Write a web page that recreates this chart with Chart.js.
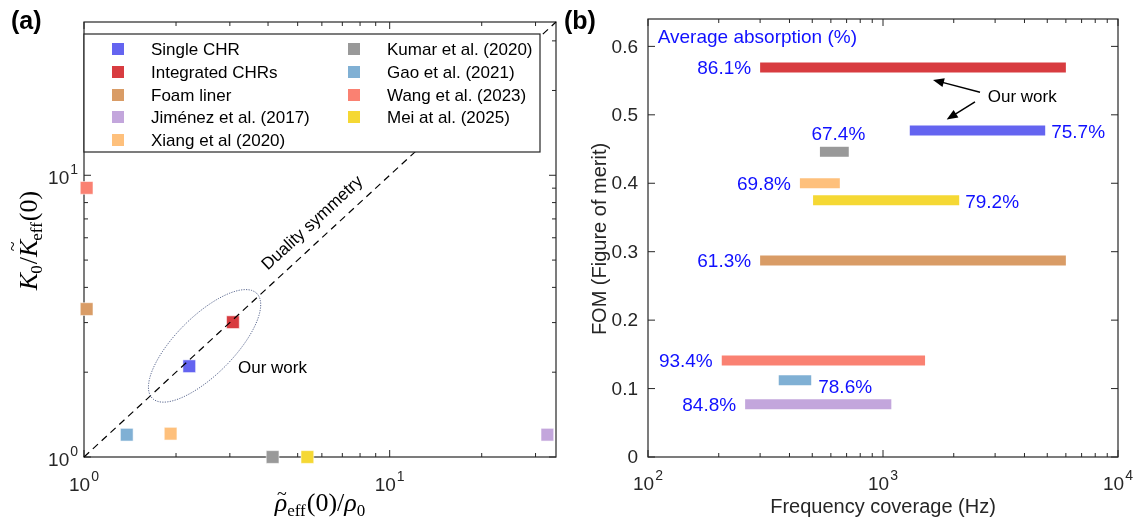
<!DOCTYPE html>
<html><head><meta charset="utf-8">
<script src="https://cdn.jsdelivr.net/npm/chart.js@4.4.1/dist/chart.umd.min.js"></script>
<style>
html,body{margin:0;padding:0;background:#fff;width:1137px;height:522px;overflow:hidden;}
#ca{position:absolute;left:0;top:0;}
#cb{position:absolute;left:560px;top:0;}
</style></head><body>
<canvas id="ca" width="568" height="522"></canvas>
<canvas id="cb" width="577" height="522"></canvas>
<script>
// ---------- shared series ----------
const seriesNames  = ['Single CHR','Integrated CHRs','Foam liner','Jiménez et al. (2017)','Xiang et al (2020)','Kumar et al. (2020)','Gao et al. (2021)','Wang et al. (2023)','Mei at al. (2025)'];
const seriesColors = ['#6464f0','#d83c40','#d99c66','#c3a6dc','#fec07c','#999999','#80b0d4','#fa8172','#f5d834'];

// ---------- panel (a) data ----------
const rhoRatio = [2.21, 3.07, 1.02, 32.8, 1.92, 4.14, 1.38, 1.02, 5.38];
const kRatio   = [2.10, 3.01, 3.35, 1.20, 1.21, 1.00, 1.20, 9.02, 1.00];
const aLimits = [1, 35];
const aMajorTicks = [1, 10];
const aMinorTicks = [2,3,4,5,6,7,8,9,20,30];
const aTickExp = ['0','1'];
const ellipseCenter = [2.48, 2.48];
const ellipseMajorDec = [0.171, 0.186];
const ellipseMinorDec = [0.067, -0.073];

// ---------- panel (b) data ----------
const fomValues = [0.477, 0.569, 0.287, 0.077, 0.400, 0.446, 0.112, 0.141, 0.375];
const freqLow   = [1300, 300, 300, 259, 443, 539, 360, 206, 504];
const freqHigh  = [4900, 6000, 6000, 1085, 655, 715, 495, 1510, 2110];
const absorption = ['75.7%','86.1%','61.3%','84.8%','69.8%','67.4%','78.6%','93.4%','79.2%'];
const absorptionSide = ['right','left','left','left','left','above','rightBelow','left','right'];
const bXLimits = [100, 10000];
const bYLimits = [0, 0.64];
const bXMajorTicks = [100, 1000, 10000];
const bXTickExp = ['2','3','4'];
const bXMinorTicks = [200,300,400,500,600,700,800,900,2000,3000,4000,5000,6000,7000,8000,9000];
const bYTicks = [0,0.1,0.2,0.3,0.4,0.5,0.6];
const bYTickLabels = ['0','0.1','0.2','0.3','0.4','0.5','0.6'];

const SANS = '"Liberation Sans", Arial, sans-serif';
const SERIF = '"Liberation Serif", "Times New Roman", serif';
const AXIS = '#262626';
const BLUE = '#1010ff';

function drawFrame(chart, xMajor, xMinor, yMajor, yMinor) {
  const ctx = chart.ctx, a = chart.chartArea, xs = chart.scales.x, ys = chart.scales.y;
  ctx.save();
  ctx.strokeStyle = AXIS; ctx.lineWidth = 1.2;
  ctx.strokeRect(a.left, a.top, a.right - a.left, a.bottom - a.top);
  ctx.lineWidth = 1;
  ctx.beginPath();
  const tx = (vals, len) => vals.forEach(v => { const p = xs.getPixelForValue(v);
    ctx.moveTo(p, a.bottom); ctx.lineTo(p, a.bottom - len); ctx.moveTo(p, a.top); ctx.lineTo(p, a.top + len); });
  const ty = (vals, len) => vals.forEach(v => { const p = ys.getPixelForValue(v);
    ctx.moveTo(a.left, p); ctx.lineTo(a.left + len, p); ctx.moveTo(a.right, p); ctx.lineTo(a.right - len, p); });
  tx(xMajor, 7); tx(xMinor, 4); ty(yMajor, 7); ty(yMinor, 4);
  ctx.stroke();
  ctx.restore();
}

function drawPow(ctx, x, baseY, exp, align) {
  ctx.save();
  ctx.fillStyle = AXIS; ctx.textAlign = 'left'; ctx.textBaseline = 'alphabetic';
  const fb = '19px ' + SANS, fe = '14px ' + SANS;
  ctx.font = fb; const wb = ctx.measureText('10').width;
  ctx.font = fe; const we = ctx.measureText(exp).width;
  const w = wb + 1 + we;
  const x0 = align === 'center' ? x - w / 2 : (align === 'right' ? x - w : x);
  ctx.font = fb; ctx.fillText('10', x0, baseY);
  ctx.font = fe; ctx.fillText(exp, x0 + wb + 1, baseY - 10);
  ctx.restore();
}

function drawMath(ctx, parts, cx, baseY) {
  let total = 0;
  parts.forEach(p => { ctx.font = p.font; p.w = ctx.measureText(p.t).width; total += p.w + (p.k || 0); });
  let x = cx - total / 2;
  ctx.textAlign = 'left'; ctx.textBaseline = 'alphabetic';
  parts.forEach(p => {
    ctx.font = p.font; ctx.fillText(p.t, x, baseY + (p.dy || 0));
    if (p.tilde) {
      ctx.font = '18px ' + SERIF;
      const tw = ctx.measureText('~').width;
      ctx.fillText('~', x + p.w / 2 - tw / 2 + (p.ts || 0), baseY + p.tilde);
    }
    x += p.w + (p.k || 0);
  });
}

// ---------------- panel (a) ----------------
const panelA = {
  id: 'panelA',
  beforeDatasetsDraw(chart) {
    drawFrame(chart, aMajorTicks, aMinorTicks, aMajorTicks, aMinorTicks);
  },
  afterDatasetsDraw(chart) {
    const ctx = chart.ctx, xs = chart.scales.x, ys = chart.scales.y;
    ctx.save();
    ctx.strokeStyle = 'rgba(70,85,130,0.9)'; ctx.lineWidth = 1; ctx.setLineDash([1.2, 1.3]);
    ctx.beginPath();
    const lc = [Math.log10(ellipseCenter[0]), Math.log10(ellipseCenter[1])];
    for (let i = 0; i <= 120; i++) {
      const t = i / 120 * Math.PI * 2;
      const lx = lc[0] + ellipseMajorDec[0] * Math.cos(t) + ellipseMinorDec[0] * Math.sin(t);
      const ly = lc[1] + ellipseMajorDec[1] * Math.cos(t) + ellipseMinorDec[1] * Math.sin(t);
      const px = xs.getPixelForValue(Math.pow(10, lx)), py = ys.getPixelForValue(Math.pow(10, ly));
      if (i === 0) ctx.moveTo(px, py); else ctx.lineTo(px, py);
    }
    ctx.closePath(); ctx.stroke();
    ctx.restore();

    ctx.save();
    const p1x = xs.getPixelForValue(aLimits[0]), p1y = ys.getPixelForValue(aLimits[0]);
    const p2x = xs.getPixelForValue(aLimits[1]), p2y = ys.getPixelForValue(aLimits[1]);
    const ang = Math.atan2(p2y - p1y, p2x - p1x);
    ctx.translate(xs.getPixelForValue(6.1), ys.getPixelForValue(6.1));
    ctx.rotate(ang);
    ctx.fillStyle = '#000'; ctx.font = '17px ' + SANS; ctx.textAlign = 'center'; ctx.textBaseline = 'middle';
    ctx.fillText('Duality symmetry', 0, -17);
    ctx.restore();

    ctx.save();
    ctx.fillStyle = '#000'; ctx.font = '17px ' + SANS; ctx.textAlign = 'left'; ctx.textBaseline = 'middle';
    ctx.fillText('Our work', xs.getPixelForValue(3.19), ys.getPixelForValue(2.06));
    ctx.restore();
  },
  afterDraw(chart) {
    const ctx = chart.ctx, xs = chart.scales.x, ys = chart.scales.y, a = chart.chartArea;
    aMajorTicks.forEach((v, i) => {
      drawPow(ctx, xs.getPixelForValue(v), 491, aTickExp[i], 'center');
      drawPow(ctx, a.left - 6, ys.getPixelForValue(v) + 9, aTickExp[i], 'right');
    });
    ctx.save();
    ctx.fillStyle = '#000';
    drawMath(ctx, [
      {t:'ρ', font:'italic 26px ' + SERIF, tilde:-11, ts:1},
      {t:'eff', font:'17px ' + SERIF, dy:5, k:1},
      {t:'(0)/', font:'26px ' + SERIF},
      {t:'ρ', font:'italic 26px ' + SERIF},
      {t:'0', font:'17px ' + SERIF, dy:5}
    ], (a.left + a.right) / 2, 511);
    ctx.restore();
    ctx.save();
    ctx.fillStyle = '#000';
    ctx.translate(29, (a.top + a.bottom) / 2 + 1);
    ctx.rotate(-Math.PI / 2);
    drawMath(ctx, [
      {t:'K', font:'italic 26px ' + SERIF, k:-1},
      {t:'0', font:'17px ' + SERIF, dy:5, k:1},
      {t:'/', font:'26px ' + SERIF},
      {t:'K', font:'italic 26px ' + SERIF, tilde:-18, ts:2, k:-1},
      {t:'eff', font:'17px ' + SERIF, dy:5, k:1},
      {t:'(0)', font:'26px ' + SERIF}
    ], 0, 8);
    ctx.restore();

    ctx.save();
    const L = 84, T = 34, R = 540, B = 152;
    ctx.fillStyle = '#fff'; ctx.fillRect(L, T, R - L, B - T);
    ctx.strokeStyle = AXIS; ctx.lineWidth = 1.2; ctx.strokeRect(L, T, R - L, B - T);
    const rowsY = [49, 72, 95, 117, 140];
    ctx.font = '17px ' + SANS; ctx.textBaseline = 'middle'; ctx.textAlign = 'left';
    seriesNames.forEach((n, i) => {
      const col = i < 5 ? 0 : 1, row = i < 5 ? i : i - 5;
      const sx = col === 0 ? 118 : 354, tx = col === 0 ? 151 : 387;
      const y = rowsY[row];
      ctx.fillStyle = seriesColors[i]; ctx.fillRect(sx - 6, y - 6, 12, 12);
      ctx.fillStyle = '#000'; ctx.fillText(n, tx, y + 1);
    });
    ctx.restore();

    ctx.save();
    ctx.fillStyle = '#000'; ctx.font = 'bold 25px ' + SANS; ctx.textAlign = 'left'; ctx.textBaseline = 'alphabetic';
    ctx.fillText('(a)', 11, 29);
    ctx.restore();
  }
};

new Chart(document.getElementById('ca'), {
  type: 'scatter',
  data: {
    datasets: [
      { type: 'line', label: 'Duality symmetry', data: aLimits.map(v => ({x: v, y: v})),
        borderColor: '#000', borderWidth: 1.2, borderDash: [7, 5], pointRadius: 0, order: 0, clip: false },
      ...seriesNames.map((n, i) => ({
        label: n, data: [{x: rhoRatio[i], y: kRatio[i]}], pointStyle: 'rect', pointRadius: 9,
        backgroundColor: seriesColors[i], borderColor: 'rgba(255,255,255,0.55)', borderWidth: 1,
        order: 1, clip: false }))
    ]
  },
  options: {
    responsive: false, animation: false, events: [],
    layout: { padding: { left: 84, right: 12, top: 22, bottom: 65 } },
    plugins: { legend: { display: false }, tooltip: { enabled: false } },
    scales: {
      x: { type: 'logarithmic', min: aLimits[0], max: aLimits[1], display: false },
      y: { type: 'logarithmic', min: aLimits[0], max: aLimits[1], display: false }
    }
  },
  plugins: [panelA]
});

// ---------------- panel (b) ----------------
function arrow(ctx, x1, y1, x2, y2) {
  const ang = Math.atan2(y2 - y1, x2 - x1), hl = 11, hw = 4.5;
  ctx.beginPath(); ctx.moveTo(x1, y1);
  ctx.lineTo(x2 - Math.cos(ang) * hl * 0.8, y2 - Math.sin(ang) * hl * 0.8); ctx.stroke();
  ctx.beginPath(); ctx.moveTo(x2, y2);
  ctx.lineTo(x2 - Math.cos(ang) * hl - Math.sin(ang) * hw, y2 - Math.sin(ang) * hl + Math.cos(ang) * hw);
  ctx.lineTo(x2 - Math.cos(ang) * hl + Math.sin(ang) * hw, y2 - Math.sin(ang) * hl - Math.cos(ang) * hw);
  ctx.closePath(); ctx.fill();
}

const panelB = {
  id: 'panelB',
  beforeDatasetsDraw(chart) {
    drawFrame(chart, bXMajorTicks, bXMinorTicks, bYTicks, []);
  },
  afterDraw(chart) {
    const ctx = chart.ctx, xs = chart.scales.x, ys = chart.scales.y, a = chart.chartArea;
    ctx.save();
    ctx.fillStyle = BLUE; ctx.font = '19px ' + SANS; ctx.textBaseline = 'middle';
    absorption.forEach((lab, i) => {
      const x1 = xs.getPixelForValue(freqLow[i]), x2 = xs.getPixelForValue(freqHigh[i]);
      const y = ys.getPixelForValue(fomValues[i]);
      const side = absorptionSide[i];
      if (side === 'left') { ctx.textAlign = 'right'; ctx.fillText(lab, x1 - 9, y + 1.5); }
      else if (side === 'right') { ctx.textAlign = 'left'; ctx.fillText(lab, x2 + 6, y + 2); }
      else if (side === 'above') { ctx.textAlign = 'center'; ctx.fillText(lab, (x1 + x2) / 2 + 4, y - 17); }
      else { ctx.textAlign = 'left'; ctx.fillText(lab, x2 + 7, y + 7); }
    });
    ctx.textAlign = 'left';
    ctx.fillText('Average absorption (%)', xs.getPixelForValue(110), ys.getPixelForValue(0.612));
    ctx.restore();

    ctx.save();
    ctx.strokeStyle = '#000'; ctx.fillStyle = '#000'; ctx.lineWidth = 1.5;
    arrow(ctx, xs.getPixelForValue(2587), ys.getPixelForValue(0.533), xs.getPixelForValue(1632), ys.getPixelForValue(0.551));
    arrow(ctx, xs.getPixelForValue(2463), ys.getPixelForValue(0.519), xs.getPixelForValue(1866), ys.getPixelForValue(0.493));
    ctx.font = '17px ' + SANS; ctx.textAlign = 'left'; ctx.textBaseline = 'middle';
    ctx.fillText('Our work', xs.getPixelForValue(2790), ys.getPixelForValue(0.526));
    ctx.restore();

    bXMajorTicks.forEach((v, i) => drawPow(ctx, xs.getPixelForValue(v), 490, bXTickExp[i], 'center'));
    ctx.save();
    ctx.fillStyle = AXIS; ctx.font = '19px ' + SANS; ctx.textAlign = 'right'; ctx.textBaseline = 'middle';
    bYTicks.forEach((v, i) => ctx.fillText(bYTickLabels[i], a.left - 10, ys.getPixelForValue(v) + 1));
    ctx.restore();

    ctx.save();
    ctx.fillStyle = AXIS; ctx.font = '20px ' + SANS; ctx.textAlign = 'center'; ctx.textBaseline = 'alphabetic';
    ctx.fillText('Frequency coverage (Hz)', (a.left + a.right) / 2, 513);
    ctx.translate(46, (a.top + a.bottom) / 2 + 1);
    ctx.rotate(-Math.PI / 2);
    ctx.fillText('FOM (Figure of merit)', 0, 0);
    ctx.restore();

    ctx.save();
    ctx.fillStyle = '#000'; ctx.font = 'bold 25px ' + SANS; ctx.textAlign = 'left'; ctx.textBaseline = 'alphabetic';
    ctx.fillText('(b)', 4, 29);
    ctx.restore();
  }
};

new Chart(document.getElementById('cb'), {
  type: 'line',
  data: {
    datasets: seriesNames.map((n, i) => ({
      label: n,
      data: [{x: freqLow[i], y: fomValues[i]}, {x: freqHigh[i], y: fomValues[i]}],
      borderColor: seriesColors[i], borderWidth: 10, borderCapStyle: 'butt',
      pointRadius: 0, fill: false, tension: 0 }))
  },
  options: {
    responsive: false, animation: false, events: [],
    layout: { padding: { left: 88, right: 19, top: 19, bottom: 65 } },
    plugins: { legend: { display: false }, tooltip: { enabled: false } },
    scales: {
      x: { type: 'logarithmic', min: bXLimits[0], max: bXLimits[1], display: false },
      y: { type: 'linear', min: bYLimits[0], max: bYLimits[1], display: false }
    }
  },
  plugins: [panelB]
});
</script>
</body></html>
